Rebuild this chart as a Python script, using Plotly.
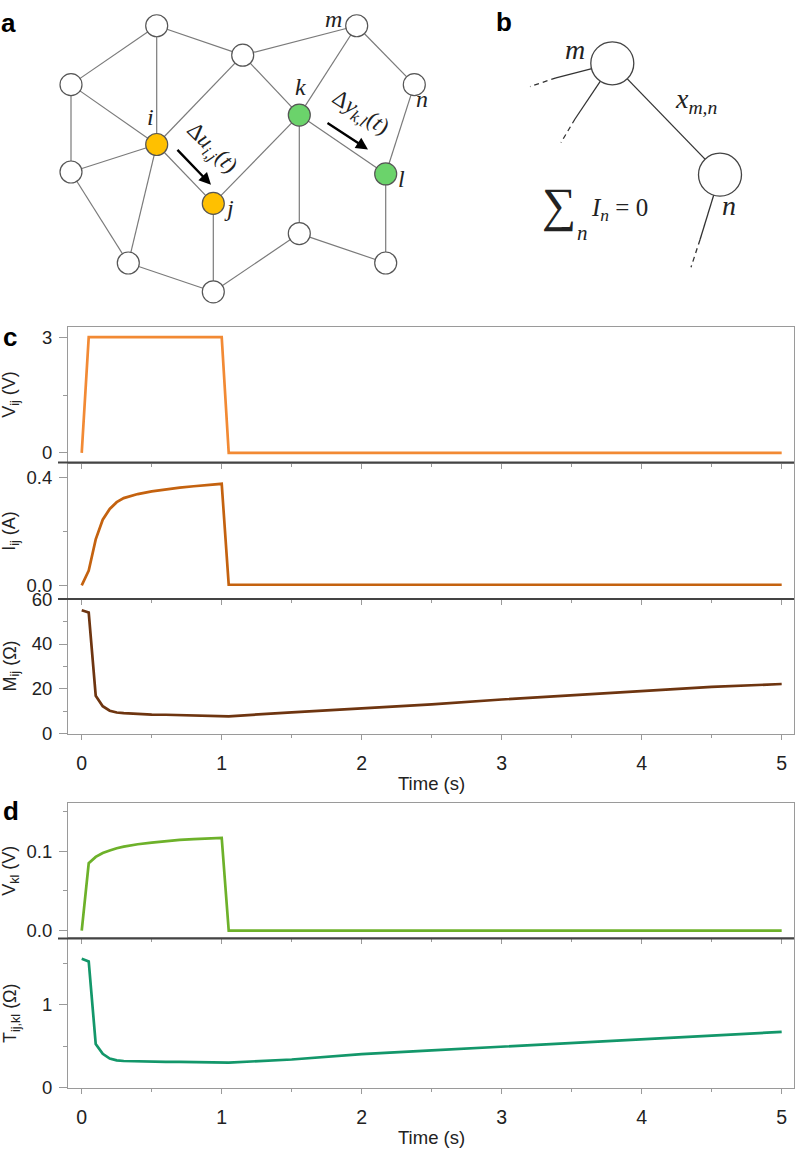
import plotly.graph_objects as go

W, H = 796, 1151

# ---------------- time-series data (panels c, d) ----------------
time_s = [0, 0.05, 0.1, 0.15, 0.2, 0.25, 0.3, 0.4, 0.5, 0.6, 0.7, 0.8, 0.9, 1.0,
          1.05, 1.5, 2.0, 2.5, 3.0, 3.5, 4.0, 4.5, 5.0]
v_ij = [0, 3, 3, 3, 3, 3, 3, 3, 3, 3, 3, 3, 3, 3,
        0, 0, 0, 0, 0, 0, 0, 0, 0]
i_ij = [0, 0.055, 0.17, 0.243, 0.283, 0.308, 0.323, 0.338, 0.348, 0.356, 0.362, 0.367, 0.372, 0.376,
        0.002, 0.002, 0.002, 0.002, 0.002, 0.002, 0.002, 0.002, 0.002]
m_ij = [55, 54, 17, 12.3, 10.3, 9.5, 9.2, 8.8, 8.6, 8.5, 8.4, 8.3, 8.2, 8.0,
        7.8, 9.6, 11.3, 13.1, 15.3, 17.2, 19.1, 20.9, 22.2]
v_kl = [0, 0.085, 0.093, 0.098, 0.101, 0.104, 0.106, 0.109, 0.111, 0.113, 0.1145, 0.1155, 0.116, 0.117,
        0, 0, 0, 0, 0, 0, 0, 0, 0]
t_ijkl = [1.554, 1.523, 0.527, 0.408, 0.352, 0.33, 0.322, 0.316, 0.313, 0.312, 0.311, 0.31, 0.308, 0.305,
          0.303, 0.34, 0.405, 0.45, 0.495, 0.54, 0.586, 0.63, 0.673]

series_names = ["V_ij", "I_ij", "M_ij", "V_kl", "T_ij,kl"]
series_vals = [v_ij, i_ij, m_ij, v_kl, t_ijkl]
series_colors = ["#F28A34", "#C4620F", "#6E3510", "#6DB12A", "#13976A"]
y_titles = ["V<sub>ij</sub> (V)", "I<sub>ij</sub> (A)", "M<sub>ij</sub> (Ω)",
            "V<sub>kl</sub> (V)", "T<sub>ij,kl</sub> (Ω)"]

# ---------------- network diagram data (panel a) ----------------
node_x = [156.7, 242.7, 356.7, 71, 414.3, 156.7, 299.3, 71, 213.3, 385.7, 299.3, 128.3, 213.3, 385.7]
node_y = [15, 45, 15, 75, 75, 136, 106, 164, 196, 166, 226.7, 256.7, 286, 256.7]
node_fill = ["white", "white", "white", "white", "white", "#FFC000", "#6BD36B", "white",
             "#FFC000", "#6BD36B", "white", "white", "white", "white"]
edges = [(0, 3), (0, 1), (0, 5), (1, 2), (1, 5), (1, 6), (2, 6), (2, 4), (3, 7), (3, 5),
         (7, 5), (5, 8), (5, 11), (7, 11), (8, 6), (8, 12), (11, 12), (12, 10), (6, 10),
         (6, 9), (4, 9), (9, 13), (10, 13)]
a_labels = ["<i>i</i>", "<i>j</i>", "<i>k</i>", "<i>l</i>", "<i>m</i>", "<i>n</i>"]
a_label_x = [150, 229, 300, 401, 333, 422]
a_label_y = [108, 201, 77, 171, 8, 90]
arrow_tail_x = [176, 326]
arrow_tail_y = [140, 113]
arrow_head_x = [211, 368]
arrow_head_y = [177, 141]
arrow_text = ["Δ<i>u<sub>i,j</sub></i>(<i>t</i>)", "Δ<i>y<sub>k,l</sub></i>(<i>t</i>)"]
arrow_text_x = [211, 360]
arrow_text_y = [140, 104]
arrow_text_angle = [45, 33]

# ---------------- panel b data ----------------
b_node_x = [612.3, 720]
b_node_y = [53.3, 166.7]
b_solid = [((612.3, 53.3), (556, 68)), ((612.3, 53.3), (575, 110)),
           ((612.3, 53.3), (720, 166.7)), ((720, 166.7), (700, 233))]
b_dashed = [((556, 68), (530, 77)), ((575, 110), (561, 134)), ((700, 233), (691, 261))]

fig = go.Figure()

# ---------- diagram axes (pixel coordinates of top area) ----------
DIAG_H = 300
fig.add_trace(go.Scatter(
    x=sum([[node_x[a], node_x[b], None] for a, b in edges], []),
    y=sum([[node_y[a], node_y[b], None] for a, b in edges], []),
    mode="lines", line=dict(color="#7a7a7a", width=1.2),
    xaxis="x6", yaxis="y6", hoverinfo="skip", showlegend=False))
fig.add_trace(go.Scatter(
    x=node_x, y=node_y, mode="markers",
    marker=dict(size=22, color=node_fill, line=dict(color="#555555", width=1.2)),
    xaxis="x6", yaxis="y6", hoverinfo="skip", showlegend=False, cliponaxis=False))

fig.add_trace(go.Scatter(
    x=sum([[p[0], q[0], None] for p, q in b_solid], []),
    y=sum([[p[1], q[1], None] for p, q in b_solid], []),
    mode="lines", line=dict(color="#333333", width=1.3),
    xaxis="x6", yaxis="y6", hoverinfo="skip", showlegend=False))
fig.add_trace(go.Scatter(
    x=sum([[p[0], q[0], None] for p, q in b_dashed], []),
    y=sum([[p[1], q[1], None] for p, q in b_dashed], []),
    mode="lines", line=dict(color="#333333", width=1.3, dash="5px,4px"),
    xaxis="x6", yaxis="y6", hoverinfo="skip", showlegend=False))
fig.add_trace(go.Scatter(
    x=b_node_x, y=b_node_y, mode="markers",
    marker=dict(size=43, color="white", line=dict(color="#444444", width=1.3)),
    xaxis="x6", yaxis="y6", hoverinfo="skip", showlegend=False, cliponaxis=False))

# ---------- time series ----------
for k in range(5):
    fig.add_trace(go.Scatter(
        x=time_s, y=series_vals[k], mode="lines", name=series_names[k],
        line=dict(color=series_colors[k], width=2.7),
        xaxis="x" if k == 0 else f"x{k+1}", yaxis="y" if k == 0 else f"y{k+1}",
        showlegend=False, cliponaxis=False))

# ---------- layout ----------
def py(px):
    return 1 - px / H

x_dom = [68 / W, 794 / W]
y_bounds = [(322, 460), (460, 599), (599, 736.3), (807, 944.7), (944.7, 1096.7)]
y_ranges = [[-0.25, 3.26], [-0.051, 0.4545], [0, 60], [-0.0099, 0.1607], [0, 1.80]]
y_dtick = [3, 0.4, 20, 0.1, 1]
y_minor = [1.5, 0.2, 10, 0.05, 0.5]
y_fmt = ["d", ".1f", "d", ".1f", "d"]
show_xlab = [False, False, True, False, True]

AX = "#9a9a9a"
SANS = "Liberation Sans, Arial, sans-serif"
tick_font = dict(family=SANS, size=18.5, color="#222222")

layout = dict(width=W, height=H, margin=dict(l=0, r=0, t=0, b=0),
              paper_bgcolor="white", plot_bgcolor="white", showlegend=False)

for k in range(5):
    xs = "xaxis" if k == 0 else f"xaxis{k+1}"
    ys = "yaxis" if k == 0 else f"yaxis{k+1}"
    ya = "y" if k == 0 else f"y{k+1}"
    xa = "x" if k == 0 else f"x{k+1}"
    top, bot = y_bounds[k]
    layout[xs] = dict(domain=x_dom, anchor=ya, range=[-0.098, 5.088],
                      showline=True, linecolor=AX, linewidth=1, mirror=True,
                      ticks="outside", ticklen=5, tickcolor=AX, tickwidth=1,
                      tick0=0, dtick=1,
                      minor=dict(dtick=0.5, tick0=0, ticks="outside", ticklen=3, tickcolor=AX),
                      showgrid=False, zeroline=False, showticklabels=show_xlab[k],
                      tickfont=dict(family=SANS, size=19.5, color="#222222"),
                      ticklabelstandoff=7, fixedrange=True)
    layout[ys] = dict(domain=[py(bot), py(top)], anchor=xa, range=y_ranges[k],
                      showline=True, linecolor=AX, linewidth=1, mirror=True,
                      ticks="outside", ticklen=8, tickcolor=AX, tickwidth=1,
                      tick0=0, dtick=y_dtick[k], tickformat=y_fmt[k],
                      minor=dict(dtick=y_minor[k], tick0=0, ticks="outside", ticklen=4, tickcolor=AX),
                      showgrid=False, zeroline=False, tickfont=tick_font,
                      ticklabelstandoff=3, fixedrange=True)

layout["xaxis6"] = dict(domain=[0, 1], anchor="y6", range=[0, W], visible=False, fixedrange=True)
layout["yaxis6"] = dict(domain=[py(DIAG_H), 1], anchor="x6", range=[DIAG_H, 0], visible=False,
                        fixedrange=True)

shapes = []
# dark separators between stacked panels
for yref in ["y", "y2", "y4"]:
    shapes.append(dict(type="line", xref="x domain", yref=f"{yref} domain",
                       x0=-10 / 726, x1=1, y0=0, y1=0,
                       line=dict(color="#444444", width=2)))
layout["shapes"] = shapes

ann = []
serif = "Liberation Serif, DejaVu Serif, serif"
# panel letters
for txt, x, y in [("a", 8, 12), ("b", 504, 11), ("c", 10, 332), ("d", 11, 815)]:
    ann.append(dict(text=f"<b>{txt}</b>", x=x / W, y=py(y), xref="paper", yref="paper",
                    showarrow=False, xanchor="center", yanchor="middle",
                    font=dict(family=SANS, size=26, color="black")))
# y-axis titles
for k in range(5):
    yref = "y domain" if k == 0 else f"y{k+1} domain"
    ann.append(dict(text=y_titles[k], x=11 / W, y=0.5, xref="paper", yref=yref,
                    textangle=-90, showarrow=False, xanchor="center", yanchor="middle",
                    font=dict(family=SANS, size=18, color="#222222")))
# x-axis titles
for xref, yref in [("x3 domain", "y3 domain"), ("x5 domain", "y5 domain")]:
    ann.append(dict(text="Time (s)", x=0.5, y=0, xref=xref, yref=yref, yshift=-50,
                    showarrow=False, xanchor="center", yanchor="middle",
                    font=dict(family=SANS, size=18.5, color="#222222")))
# panel a labels
for t, x, y in zip(a_labels, a_label_x, a_label_y):
    ann.append(dict(text=t, x=x, y=y, xref="x6", yref="y6", showarrow=False,
                    xanchor="center", yanchor="middle",
                    font=dict(family=serif, size=24, color="#222222")))
# arrows
for tx, ty, hx, hy in zip(arrow_tail_x, arrow_tail_y, arrow_head_x, arrow_head_y):
    ann.append(dict(text="", x=hx, y=hy, ax=tx, ay=ty, xref="x6", yref="y6",
                    axref="x6", ayref="y6", showarrow=True, arrowhead=2, arrowsize=1,
                    arrowwidth=2.4, arrowcolor="black", standoff=0, startstandoff=0))
for t, x, y, a in zip(arrow_text, arrow_text_x, arrow_text_y, arrow_text_angle):
    ann.append(dict(text=t, x=x, y=y, xref="x6", yref="y6", showarrow=False,
                    textangle=a, xanchor="center", yanchor="middle",
                    font=dict(family=serif, size=23, color="#222222")))
# panel b labels
b_texts = [("<i>m</i>", 575, 39, 28), ("<i>n</i>", 729, 198, 28),
           ("<i>x<sub>m,n</sub></i>", 696, 91, 28)]
for t, x, y, s in b_texts:
    ann.append(dict(text=t, x=x, y=y, xref="x6", yref="y6", showarrow=False,
                    xanchor="center", yanchor="middle",
                    font=dict(family=serif, size=s, color="#222222")))
ann.append(dict(text="∑", x=559, y=198, xref="x6", yref="y6", showarrow=False,
                xanchor="center", yanchor="middle",
                font=dict(family=serif, size=48, color="#222222")))
ann.append(dict(text="<i>n</i>", x=582, y=226, xref="x6", yref="y6", showarrow=False,
                xanchor="center", yanchor="middle",
                font=dict(family=serif, size=21, color="#222222")))
ann.append(dict(text="<i>I<sub>n</sub></i> = 0", x=589, y=202, xref="x6", yref="y6",
                showarrow=False, xanchor="left", yanchor="middle",
                font=dict(family=serif, size=25, color="#222222")))
layout["annotations"] = ann

fig.update_layout(**layout)
fig.write_html("out.html")
